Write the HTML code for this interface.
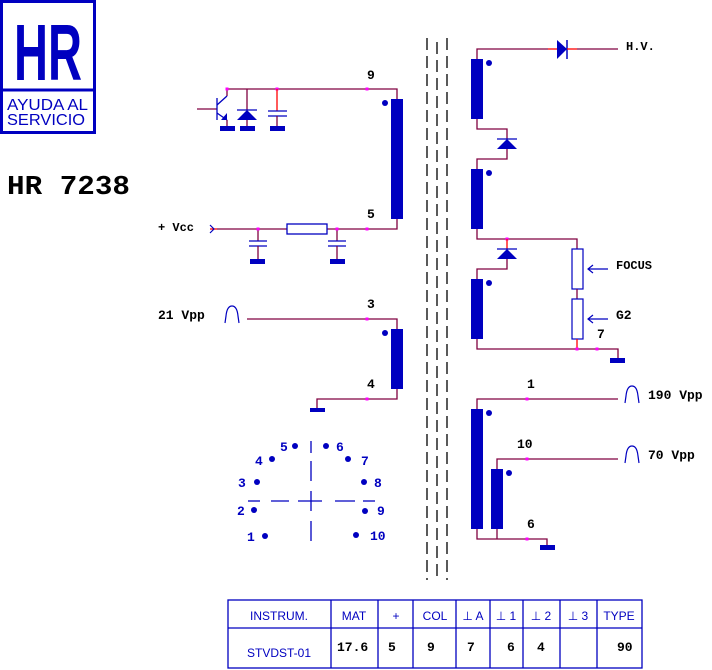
<!DOCTYPE html>
<html><head><meta charset="utf-8"><style>
html,body{margin:0;padding:0;background:#fff;width:712px;height:670px;overflow:hidden}
svg{display:block}
.t{font-family:"Liberation Mono",monospace;font-weight:bold;font-size:13px;fill:#000}
.b{font-family:"Liberation Sans",sans-serif;fill:#0000c0}
.w{stroke:#800040;stroke-width:1.3;fill:none}
.r{stroke:#ff0000;stroke-width:1.3;fill:none}
.bl{fill:#0000c0}
.p{fill:#ff00ff}
.core{stroke:#000;stroke-width:1.3;stroke-dasharray:12 6}
</style></head><body>
<svg width="712" height="670" viewBox="0 0 712 670" xmlns="http://www.w3.org/2000/svg">
<!-- logo -->
<rect x="1.5" y="1.5" width="93" height="131" fill="none" stroke="#0000c0" stroke-width="3"/>
<line x1="1" y1="90" x2="96" y2="90" stroke="#0000c0" stroke-width="3"/>
<text x="48" y="80" text-anchor="middle" class="b" font-weight="bold" font-size="80" textLength="68" lengthAdjust="spacingAndGlyphs">HR</text>
<text x="7" y="110" class="b" font-size="16" textLength="81" lengthAdjust="spacingAndGlyphs">AYUDA AL</text>
<text x="7" y="125" class="b" font-size="16" textLength="78" lengthAdjust="spacingAndGlyphs">SERVICIO</text>
<text x="7" y="194" class="t" style="font-size:27px" textLength="123" lengthAdjust="spacingAndGlyphs">HR 7238</text>

<!-- core -->
<line x1="427" y1="38" x2="427" y2="580" class="core"/>
<line x1="437" y1="42" x2="437" y2="580" class="core"/>
<line x1="447" y1="38" x2="447" y2="580" class="core"/>

<!-- top-left winding -->
<rect x="391" y="99" width="12" height="120" class="bl"/>
<circle cx="385" cy="103" r="3" class="bl"/>
<polyline points="227,96 227,89 397,89 397,99" class="w"/>
<polyline points="217,229 397,229 397,219" class="w"/>
<line x1="210" y1="229" x2="217" y2="229" class="r"/>
<text x="367" y="79" class="t">9</text>
<text x="367" y="218" class="t">5</text>
<rect x="225.5" y="87.5" width="3" height="3" class="p"/>
<rect x="275.5" y="87.5" width="3" height="3" class="p"/>
<rect x="365.5" y="87.5" width="3" height="3" class="p"/>
<!-- transistor -->
<line x1="197" y1="109" x2="217" y2="109" class="w"/>
<line x1="217" y1="98" x2="217" y2="120" stroke="#0000c0" stroke-width="1.3"/>
<line x1="217" y1="105" x2="227" y2="96" stroke="#0000c0" stroke-width="1.3"/>
<line x1="217" y1="113" x2="227" y2="120" stroke="#0000c0" stroke-width="1.3"/>
<polygon points="221,120 227,113 227,120" class="bl"/>
<line x1="227" y1="120" x2="227" y2="126" class="w"/>
<rect x="220" y="126" width="15" height="5" class="bl"/>
<!-- zener diode -->
<line x1="247" y1="89" x2="247" y2="110" class="w"/>
<line x1="237" y1="110" x2="257" y2="110" stroke="#0000c0" stroke-width="1.3"/>
<polygon points="247,110 237,120 257,120" class="bl"/>
<line x1="247" y1="120" x2="247" y2="126" class="w"/>
<rect x="240" y="126" width="15" height="5" class="bl"/>
<!-- cap -->
<line x1="277" y1="89" x2="277" y2="111" class="r"/>
<line x1="268" y1="111" x2="287" y2="111" stroke="#0000c0" stroke-width="1.3"/>
<line x1="268" y1="116" x2="287" y2="116" stroke="#0000c0" stroke-width="1.3"/>
<line x1="277" y1="116" x2="277" y2="126" class="w"/>
<rect x="270" y="126" width="15" height="5" class="bl"/>
<!-- vcc -->
<text x="158" y="231" class="t" style="font-size:12px">+ Vcc</text>
<polyline points="210,225 214,229 210,233" fill="none" stroke="#0000c0" stroke-width="1.2"/>
<rect x="287" y="224" width="40" height="10" fill="#fff" stroke="#0000c0" stroke-width="1.3"/>
<line x1="258" y1="229" x2="258" y2="241" class="w"/>
<line x1="249" y1="241" x2="267" y2="241" stroke="#0000c0" stroke-width="1.3"/>
<line x1="249" y1="246" x2="267" y2="246" stroke="#0000c0" stroke-width="1.3"/>
<line x1="258" y1="246" x2="258" y2="259" class="w"/>
<rect x="250" y="259" width="15" height="5" class="bl"/>
<line x1="337" y1="229" x2="337" y2="241" class="w"/>
<line x1="328" y1="241" x2="346" y2="241" stroke="#0000c0" stroke-width="1.3"/>
<line x1="328" y1="246" x2="346" y2="246" stroke="#0000c0" stroke-width="1.3"/>
<line x1="337" y1="246" x2="337" y2="259" class="w"/>
<rect x="330" y="259" width="15" height="5" class="bl"/>
<rect x="256.5" y="227.5" width="3" height="3" class="p"/>
<rect x="335.5" y="227.5" width="3" height="3" class="p"/>
<rect x="365.5" y="227.5" width="3" height="3" class="p"/>

<!-- middle winding -->
<rect x="391" y="329" width="12" height="60" class="bl"/>
<circle cx="385" cy="333" r="3" class="bl"/>
<polyline points="247,319 397,319 397,329" class="w"/>
<polyline points="317,408 317,399 397,399 397,389" class="w"/>
<rect x="310" y="408" width="15" height="4" class="bl"/>
<rect x="365.5" y="317.5" width="3" height="3" class="p"/>
<rect x="365.5" y="397.5" width="3" height="3" class="p"/>
<text x="367" y="308" class="t">3</text>
<text x="367" y="388" class="t">4</text>
<text x="158" y="319" class="t">21 Vpp</text>
<path d="M225,323 L226,316 Q227,306 232,306 Q237,306 238,316 L239,323" fill="none" stroke="#0000c0" stroke-width="1.2"/>

<!-- pin diagram -->
<g class="bl">
<circle cx="295" cy="446" r="3"/><circle cx="326" cy="446" r="3"/>
<circle cx="272" cy="459" r="3"/><circle cx="348" cy="459" r="3"/>
<circle cx="257" cy="482" r="3"/><circle cx="364" cy="482" r="3"/>
<circle cx="254" cy="510" r="3"/><circle cx="365" cy="511" r="3"/>
<circle cx="265" cy="536" r="3"/><circle cx="356" cy="535" r="3"/>
</g>
<g class="t" style="fill:#0000c0">
<text x="280" y="451">5</text><text x="336" y="451">6</text>
<text x="255" y="465">4</text><text x="361" y="465">7</text>
<text x="238" y="487">3</text><text x="374" y="487">8</text>
<text x="237" y="515">2</text><text x="377" y="515">9</text>
<text x="247" y="541">1</text><text x="370" y="540">10</text>
</g>
<g stroke="#0000c0" stroke-width="1.3">
<line x1="311" y1="441" x2="311" y2="453"/><line x1="311" y1="461" x2="311" y2="481"/>
<line x1="311" y1="491" x2="311" y2="511"/><line x1="311" y1="521" x2="311" y2="541"/>
<line x1="248" y1="501" x2="260" y2="501"/><line x1="271" y1="501" x2="289" y2="501"/>
<line x1="298" y1="501" x2="322" y2="501"/><line x1="335" y1="501" x2="355" y2="501"/>
<line x1="363" y1="501" x2="375" y2="501"/>
</g>

<!-- right top HV -->
<rect x="471" y="59" width="12" height="60" class="bl"/>
<rect x="471" y="169" width="12" height="60" class="bl"/>
<rect x="471" y="279" width="12" height="60" class="bl"/>
<circle cx="489" cy="63" r="3" class="bl"/><circle cx="489" cy="173" r="3" class="bl"/><circle cx="489" cy="283" r="3" class="bl"/>
<polyline points="477,59 477,49 548,49" class="w"/>
<line x1="548" y1="49" x2="557" y2="49" class="r"/>
<polygon points="557,40 567,49 557,59" class="bl"/>
<line x1="567" y1="40" x2="567" y2="59" stroke="#0000c0" stroke-width="1.5"/>
<line x1="567" y1="49" x2="577" y2="49" class="r"/>
<line x1="577" y1="49" x2="618" y2="49" class="w"/>
<text x="626" y="50" class="t" style="font-size:12px">H.V.</text>
<polyline points="477,119 477,129 507,129 507,139" class="w"/>
<line x1="497" y1="139" x2="517" y2="139" stroke="#0000c0" stroke-width="1.3"/>
<polygon points="507,139 497,149 517,149" class="bl"/>
<polyline points="507,149 507,159 477,159 477,169" class="w"/>
<polyline points="477,229 477,239 577,239 577,249" class="w"/>
<rect x="505.5" y="237.5" width="3" height="3" class="p"/>
<line x1="507" y1="239" x2="507" y2="249" class="r"/>
<line x1="497" y1="249" x2="517" y2="249" stroke="#0000c0" stroke-width="1.3"/>
<polygon points="507,249 497,259 517,259" class="bl"/>
<polyline points="507,259 507,269 477,269 477,279" class="w"/>
<rect x="572" y="249" width="11" height="40" fill="#fff" stroke="#0000c0" stroke-width="1.2"/>
<line x1="577" y1="289" x2="577" y2="299" class="w"/>
<rect x="572" y="299" width="11" height="40" fill="#fff" stroke="#0000c0" stroke-width="1.2"/>
<polyline points="477,339 477,349 618,349 618,358" class="w"/>
<line x1="577" y1="339" x2="577" y2="349" class="r"/>
<rect x="610" y="358" width="15" height="5" class="bl"/>
<rect x="575.5" y="347.5" width="3" height="3" class="p"/>
<rect x="595.5" y="347.5" width="3" height="3" class="p"/>
<text x="597" y="338" class="t">7</text>
<line x1="588" y1="269" x2="608" y2="269" stroke="#0000c0" stroke-width="1.2"/>
<polyline points="593,265 588,269 593,273" fill="none" stroke="#0000c0" stroke-width="1.2"/>
<line x1="588" y1="319" x2="608" y2="319" stroke="#0000c0" stroke-width="1.2"/>
<polyline points="593,315 588,319 593,323" fill="none" stroke="#0000c0" stroke-width="1.2"/>
<text x="616" y="269" class="t" style="font-size:12px">FOCUS</text>
<text x="616" y="319" class="t">G2</text>

<!-- right lower -->
<rect x="471" y="409" width="12" height="120" class="bl"/>
<rect x="491" y="469" width="12" height="60" class="bl"/>
<circle cx="489" cy="413" r="3" class="bl"/><circle cx="509" cy="473" r="3" class="bl"/>
<polyline points="477,409 477,399 618,399" class="w"/>
<polyline points="497,469 497,459 618,459" class="w"/>
<polyline points="477,529 477,539 547,539 547,545" class="w"/>
<line x1="497" y1="529" x2="497" y2="539" class="w"/>
<rect x="540" y="545" width="15" height="5" class="bl"/>
<rect x="525.5" y="397.5" width="3" height="3" class="p"/>
<rect x="525.5" y="457.5" width="3" height="3" class="p"/>
<rect x="525.5" y="537.5" width="3" height="3" class="p"/>
<text x="527" y="388" class="t">1</text>
<text x="517" y="448" class="t">10</text>
<text x="527" y="528" class="t">6</text>
<path d="M625,403 L626,396 Q627,386 632,386 Q637,386 638,396 L639,403" fill="none" stroke="#0000c0" stroke-width="1.2"/>
<path d="M625,463 L626,456 Q627,446 632,446 Q637,446 638,456 L639,463" fill="none" stroke="#0000c0" stroke-width="1.2"/>
<text x="648" y="399" class="t">190 Vpp</text>
<text x="648" y="459" class="t">70 Vpp</text>

<!-- table -->
<g stroke="#0000c0" stroke-width="1.3" fill="none">
<rect x="228" y="600" width="414" height="68"/>
<line x1="228" y1="628" x2="642" y2="628"/>
<line x1="331" y1="600" x2="331" y2="668"/>
<line x1="378" y1="600" x2="378" y2="668"/>
<line x1="413" y1="600" x2="413" y2="668"/>
<line x1="456" y1="600" x2="456" y2="668"/>
<line x1="490" y1="600" x2="490" y2="668"/>
<line x1="523" y1="600" x2="523" y2="668"/>
<line x1="560" y1="600" x2="560" y2="668"/>
<line x1="597" y1="600" x2="597" y2="668"/>
</g>
<g class="b" font-size="12">
<text x="279" y="620" text-anchor="middle">INSTRUM.</text>
<text x="354" y="620" text-anchor="middle">MAT</text>
<text x="396" y="620" text-anchor="middle">+</text>
<text x="435" y="620" text-anchor="middle">COL</text>
<text x="473" y="620" text-anchor="middle">⊥ A</text>
<text x="506" y="620" text-anchor="middle">⊥ 1</text>
<text x="541" y="620" text-anchor="middle">⊥ 2</text>
<text x="578" y="620" text-anchor="middle">⊥ 3</text>
<text x="619" y="620" text-anchor="middle">TYPE</text>
<text x="279" y="657" text-anchor="middle">STVDST-01</text>
</g>
<g class="t">
<text x="337" y="651">17.6</text>
<text x="388" y="651">5</text>
<text x="427" y="651">9</text>
<text x="467" y="651">7</text>
<text x="507" y="651">6</text>
<text x="537" y="651">4</text>
<text x="617" y="651">90</text>
</g>
</svg>
</body></html>
